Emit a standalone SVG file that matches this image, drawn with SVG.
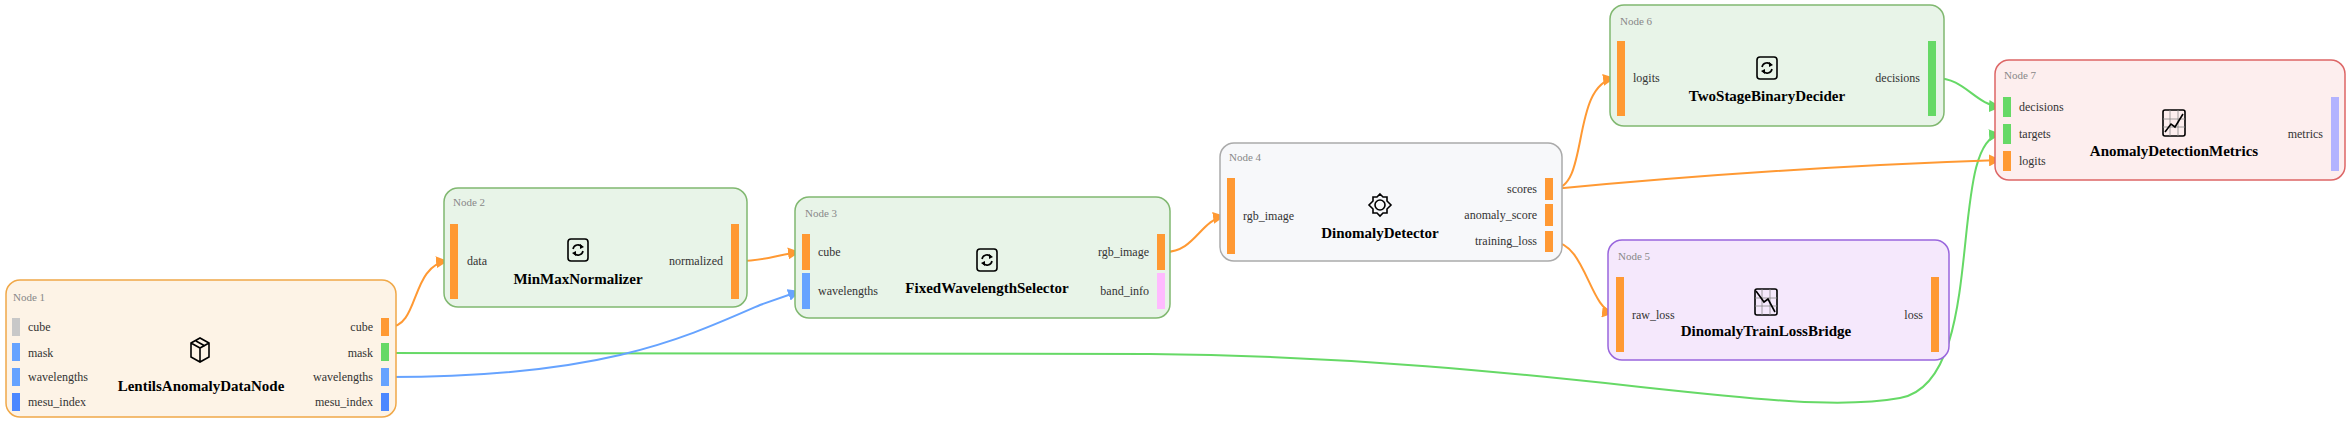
<svg xmlns="http://www.w3.org/2000/svg" width="2352" height="424" viewBox="0 0 2352 424">
<style>
.lbl{font-family:"Liberation Serif",serif;font-size:12px;fill:#333}
.ttl{font-family:"Liberation Serif",serif;font-size:15px;font-weight:bold;fill:#000;text-anchor:middle}
.nid{font-family:"Liberation Serif",serif;font-size:11px;fill:#888}
.r{text-anchor:end}
.ic{fill:none;stroke:#000;stroke-width:1.6}
.c{fill:none;stroke-width:2}
</style>
<defs>
<marker id="ao" viewBox="0 0 10 10" refX="10" refY="5" markerWidth="6" markerHeight="6" orient="auto" markerUnits="strokeWidth"><path d="M0,0L10,5L0,10z" fill="#ff9933"/></marker>
<marker id="ag" viewBox="0 0 10 10" refX="10" refY="5" markerWidth="6" markerHeight="6" orient="auto" markerUnits="strokeWidth"><path d="M0,0L10,5L0,10z" fill="#66d966"/></marker>
<marker id="ab" viewBox="0 0 10 10" refX="10" refY="5" markerWidth="6" markerHeight="6" orient="auto" markerUnits="strokeWidth"><path d="M0,0L10,5L0,10z" fill="#66a3ff"/></marker>
<g id="refresh"><rect x="-10" y="-11" width="20" height="22" rx="3" class="ic"/><path d="M-5,-1 A5,5 0 0 1 4,-3 M5,1 A5,5 0 0 1 -4,3" class="ic" stroke-width="2"/><path d="M2,-6 L6,-3 L2,-1z M-2,6 L-6,3 L-2,1z" fill="#000"/></g>
<g id="chart"><rect x="-11" y="-13" width="22" height="26" rx="2" class="ic"/><path d="M-11,-4H11M-11,4H11M-4,-13V13M4,-13V13" stroke="#888" stroke-width="0.8"/></g>
</defs>

<g id="connectors">
<path class="c" stroke="#ff9933" marker-end="url(#ao)" d="M389,327 C420,327 410,265 448,261"/>
<path class="c" stroke="#66d966" marker-end="url(#ag)" d="M389,353 L1150,354 C1550,358 1780,420 1900,398 C1990,382 1945,140 2001,134"/>
<path class="c" stroke="#66a3ff" marker-end="url(#ab)" d="M389,377 C600,377 680,340 760,305 L800,291"/>
<path class="c" stroke="#ff9933" marker-end="url(#ao)" d="M739,261 C765,261 775,255 800,252"/>
<path class="c" stroke="#ff9933" marker-end="url(#ao)" d="M1165,252 C1195,252 1200,220 1225,216"/>
<path class="c" stroke="#ff9933" marker-end="url(#ao)" d="M1553,189 C1590,189 1570,85 1615,78"/>
<path class="c" stroke="#ff9933" marker-end="url(#ao)" d="M1553,189 C1700,175 1850,165 2001,160"/>
<path class="c" stroke="#ff9933" marker-end="url(#ao)" d="M1553,242 C1585,242 1590,310 1614,313"/>
<path class="c" stroke="#66d966" marker-end="url(#ag)" d="M1936,78 C1965,78 1975,105 2001,107"/>
</g>

<g id="node1">
<rect x="6" y="280" width="390" height="137" rx="14" fill="#fdf3e6" stroke="#f0a848" stroke-width="1.5"/>
<text class="nid" x="13" y="301">Node 1</text>
<rect x="12" y="318" width="8" height="18" fill="#c8c8c8"/><rect x="12" y="343" width="8" height="18" fill="#66a3ff"/><rect x="12" y="368" width="8" height="18" fill="#66a3ff"/><rect x="12" y="393" width="8" height="18" fill="#4d88ff"/>
<text class="lbl" x="28" y="331">cube</text><text class="lbl" x="28" y="357">mask</text><text class="lbl" x="28" y="381">wavelengths</text><text class="lbl" x="28" y="406">mesu_index</text>
<rect x="381" y="318" width="8" height="18" fill="#ff9933"/><rect x="381" y="343" width="8" height="18" fill="#66d966"/><rect x="381" y="368" width="8" height="18" fill="#66a3ff"/><rect x="381" y="393" width="8" height="18" fill="#4d88ff"/>
<text class="lbl r" x="373" y="331">cube</text><text class="lbl r" x="373" y="357">mask</text><text class="lbl r" x="373" y="381">wavelengths</text><text class="lbl r" x="373" y="406">mesu_index</text>
<g transform="translate(200,350)"><path class="ic" d="M-9,-7 L0,-12 L9,-7 L9,7 L0,12 L-9,7Z M-9,-7 L0,-2 L9,-7 M0,-2 L0,12 M-4,-9 L5,-4"/></g>
<text class="ttl" x="201" y="391">LentilsAnomalyDataNode</text>
</g>

<g id="node2">
<rect x="444" y="188" width="303" height="119" rx="14" fill="#e8f4e8" stroke="#80b870" stroke-width="1.5"/>
<text class="nid" x="453" y="206">Node 2</text>
<rect x="450" y="224" width="8" height="75" fill="#ff9933"/><rect x="731" y="224" width="8" height="75" fill="#ff9933"/>
<text class="lbl" x="467" y="265">data</text><text class="lbl r" x="723" y="265">normalized</text>
<use href="#refresh" x="578" y="250"/>
<text class="ttl" x="578" y="284">MinMaxNormalizer</text>
</g>

<g id="node3">
<rect x="795" y="197" width="375" height="121" rx="14" fill="#e8f4e8" stroke="#80b870" stroke-width="1.5"/>
<text class="nid" x="805" y="217">Node 3</text>
<rect x="802" y="234" width="8" height="36" fill="#ff9933"/><rect x="802" y="273" width="8" height="36" fill="#66a3ff"/>
<rect x="1157" y="234" width="8" height="36" fill="#ff9933"/><rect x="1157" y="273" width="8" height="36" fill="#ffbbff"/>
<text class="lbl" x="818" y="256">cube</text><text class="lbl" x="818" y="295">wavelengths</text>
<text class="lbl r" x="1149" y="256">rgb_image</text><text class="lbl r" x="1149" y="295">band_info</text>
<use href="#refresh" x="987" y="260"/>
<text class="ttl" x="987" y="293">FixedWavelengthSelector</text>
</g>

<g id="node4">
<rect x="1220" y="143" width="342" height="118" rx="14" fill="#f7f8fa" stroke="#aaaaaa" stroke-width="1.5"/>
<text class="nid" x="1229" y="161">Node 4</text>
<rect x="1227" y="178" width="8" height="76" fill="#ff9933"/>
<rect x="1545" y="178" width="8" height="22" fill="#ff9933"/><rect x="1545" y="204" width="8" height="22" fill="#ff9933"/><rect x="1545" y="231" width="8" height="21" fill="#ff9933"/>
<text class="lbl" x="1243" y="220">rgb_image</text>
<text class="lbl r" x="1537" y="193">scores</text><text class="lbl r" x="1537" y="219">anomaly_score</text><text class="lbl r" x="1537" y="245">training_loss</text>
<g transform="translate(1380,205)"><circle r="5" class="ic"/><path class="ic" d="M0,-11 L3,-8 L7,-8 L7,-4 L11,0 L7,4 L7,8 L3,8 L0,11 L-3,8 L-7,8 L-7,4 L-11,0 L-7,-4 L-7,-8 L-3,-8Z"/></g>
<text class="ttl" x="1380" y="238">DinomalyDetector</text>
</g>

<g id="node6">
<rect x="1610" y="5" width="334" height="121" rx="14" fill="#e8f4e8" stroke="#80b870" stroke-width="1.5"/>
<text class="nid" x="1620" y="25">Node 6</text>
<rect x="1617" y="41" width="8" height="75" fill="#ff9933"/><rect x="1928" y="41" width="8" height="75" fill="#66d966"/>
<text class="lbl" x="1633" y="82">logits</text><text class="lbl r" x="1920" y="82">decisions</text>
<use href="#refresh" x="1767" y="68"/>
<text class="ttl" x="1767" y="101">TwoStageBinaryDecider</text>
</g>

<g id="node5">
<rect x="1608" y="240" width="341" height="120" rx="14" fill="#f5e8fc" stroke="#9966dd" stroke-width="1.5"/>
<text class="nid" x="1618" y="260">Node 5</text>
<rect x="1616" y="277" width="8" height="75" fill="#ff9933"/><rect x="1931" y="277" width="8" height="75" fill="#ff9933"/>
<text class="lbl" x="1632" y="319">raw_loss</text><text class="lbl r" x="1923" y="319">loss</text>
<g transform="translate(1766,302)"><use href="#chart"/><path class="ic" d="M-10,-11 L-2,0 L2,-3 L9,10"/></g>
<text class="ttl" x="1766" y="336">DinomalyTrainLossBridge</text>
</g>

<g id="node7">
<rect x="1995" y="60" width="350" height="120" rx="14" fill="#fdeeee" stroke="#dd6666" stroke-width="1.5"/>
<text class="nid" x="2004" y="79">Node 7</text>
<rect x="2003" y="97" width="8" height="20" fill="#66d966"/><rect x="2003" y="124" width="8" height="20" fill="#66d966"/><rect x="2003" y="151" width="8" height="20" fill="#ff9933"/>
<rect x="2331" y="97" width="8" height="74" fill="#b3b3ff"/>
<text class="lbl" x="2019" y="111">decisions</text><text class="lbl" x="2019" y="138">targets</text><text class="lbl" x="2019" y="165">logits</text>
<text class="lbl r" x="2323" y="138">metrics</text>
<g transform="translate(2174,123)"><use href="#chart"/><path class="ic" d="M-9,9 L-3,1 L1,4 L9,-9"/></g>
<text class="ttl" x="2174" y="156">AnomalyDetectionMetrics</text>
</g>
</svg>
